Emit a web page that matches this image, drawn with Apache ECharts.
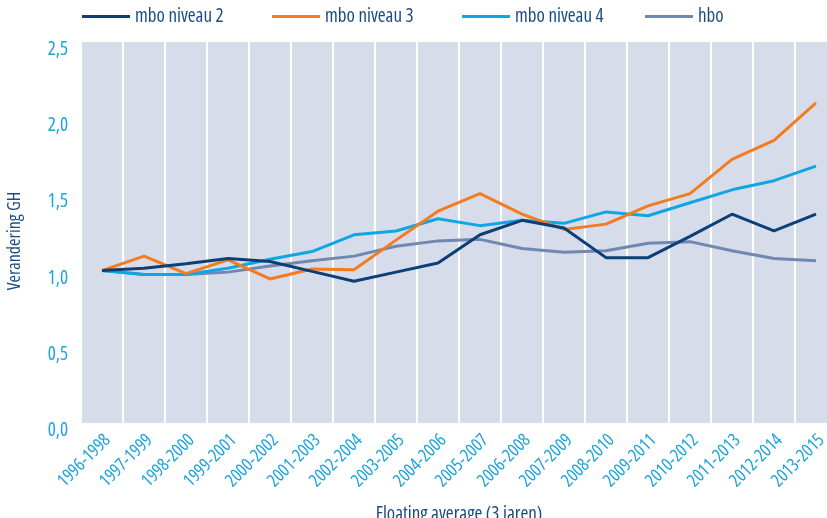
<!DOCTYPE html>
<html>
<head>
<meta charset="utf-8">
<script src="https://cdn.jsdelivr.net/npm/echarts@6/dist/echarts.min.js"></script>
<style>
html,body{margin:0;padding:0;background:#fff;}
#chart{width:827px;height:518px;}
</style>
</head>
<body>
<div id="chart"></div>
<script>
const categories = ["1996-1998","1997-1999","1998-2000","1999-2001","2000-2002","2001-2003","2002-2004","2003-2005","2004-2006","2005-2007","2006-2008","2007-2009","2008-2010","2009-2011","2010-2012","2011-2013","2012-2014","2013-2015"];
const mbo2 = [1.00,1.015,1.045,1.08,1.06,0.995,0.93,0.99,1.05,1.235,1.33,1.28,1.085,1.085,1.225,1.37,1.26,1.37];
const mbo3 = [1.00,1.095,0.98,1.07,0.945,1.01,1.005,1.20,1.39,1.505,1.37,1.27,1.305,1.425,1.505,1.73,1.855,2.10];
const mbo4 = [1.00,0.975,0.975,1.015,1.075,1.125,1.235,1.26,1.34,1.295,1.33,1.31,1.385,1.36,1.445,1.53,1.59,1.685];
const hbo  = [1.00,0.975,0.975,0.99,1.03,1.065,1.095,1.16,1.195,1.205,1.145,1.12,1.13,1.18,1.19,1.13,1.08,1.065];
const seriesNames = ["mbo niveau 2","mbo niveau 3","mbo niveau 4","hbo"];
const yTicks = [0,0.5,1.0,1.5,2.0,2.5];

const FONT = "'Open Sans',sans-serif";
const STRETCH = 'condensed';
const DARK = '#1b4c82';
const CYAN = '#1aa3df';
const colors = ['#0a3f78','#f47b20','#10a5e3','#6f88b1'];
const datasets = [mbo2, mbo3, mbo4, hbo];
const legendLefts = [82, 272, 462, 645];

function ts(color, size, extra) {
  return Object.assign({color: color, fontFamily: FONT, fontWeight: STRETCH, fontSize: size}, extra || {});
}

const chart = echarts.init(document.getElementById('chart'), null, {renderer:'canvas'});
chart.setOption({
  animation: false,
  backgroundColor: '#ffffff',
  legend: seriesNames.map((n, i) => ({
    data: [n],
    left: legendLefts[i],
    top: 7,
    padding: 0,
    icon: 'rect',
    itemWidth: 48,
    itemHeight: 3,
    textStyle: ts(DARK, 19)
  })),
  grid: {
    left: 81, top: 42, width: 756, bottom: 95,
    outerBoundsMode: 'none',
    containLabel: false,
    show: true, backgroundColor: '#d7dcea', borderWidth: 0
  },
  xAxis: {
    type: 'category',
    data: categories,
    boundaryGap: true,
    name: 'Floating average (3 jaren)',
    nameLocation: 'middle',
    nameGap: 82,
    nameMoveOverlap: false,
    nameTextStyle: ts(DARK, 19),
    axisLine: {show: false},
    axisTick: {show: false},
    splitLine: {show: true, lineStyle: {color: '#ffffff', width: 2}},
    axisLabel: Object.assign(ts(CYAN, 18), {
      interval: 0, rotate: 45, margin: 20,
      padding: [11, -8, 0, 0]
    })
  },
  yAxis: {
    type: 'value',
    min: 0, max: 2.5, interval: 0.5,
    name: 'Verandering GH',
    nameLocation: 'middle',
    nameRotate: 90,
    nameGap: 57,
    nameMoveOverlap: false,
    nameTextStyle: ts(DARK, 18, {padding: [0,17,0,0]}),
    axisLine: {show: false},
    axisTick: {show: false},
    splitLine: {show: false},
    axisLabel: Object.assign(ts(CYAN, 19), {
      margin: 13,
      lineHeight: 15,
      formatter: v => yTicks.includes(v) ? '\n' + v.toFixed(1).replace('.', ',') : ''
    })
  },
  series: datasets.map((d, i) => ({
    name: seriesNames[i],
    type: 'line',
    data: d,
    symbol: 'none',
    z: [5, 4, 3, 2][i],
    lineStyle: {color: colors[i], width: 3},
    itemStyle: {color: colors[i]}
  }))
});
</script>
</body>
</html>
